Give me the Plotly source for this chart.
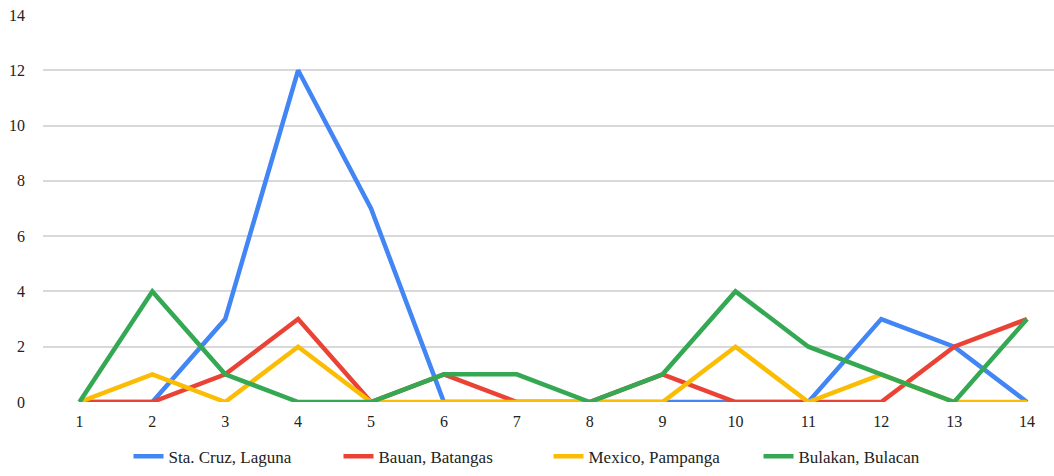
import plotly.graph_objects as go

weeks = list(range(1, 15))
sta_cruz = [0, 0, 3, 12, 7, 0, 0, 0, 0, 0, 0, 3, 2, 0]
bauan = [0, 0, 1, 3, 0, 1, 0, 0, 1, 0, 0, 0, 2, 3]
mexico = [0, 1, 0, 2, 0, 0, 0, 0, 0, 2, 0, 1, 0, 0]
bulakan = [0, 4, 1, 0, 0, 1, 1, 0, 1, 4, 2, 1, 0, 3]

series = [
    ("Sta. Cruz, Laguna", sta_cruz, "#4285F4"),
    ("Bauan, Batangas", bauan, "#EA4335"),
    ("Mexico, Pampanga", mexico, "#FBBC04"),
    ("Bulakan, Bulacan", bulakan, "#34A853"),
]

fig = go.Figure()
for name, vals, color in series:
    fig.add_trace(go.Scatter(
        x=weeks, y=vals, name=name, mode="lines",
        line=dict(color=color, width=4.5),
    ))

font_family = "'Liberation Serif', 'Times New Roman', Times, serif"
fig.update_layout(
    width=1054, height=476,
    margin=dict(l=43, r=0, t=15, b=74, autoexpand=False),
    paper_bgcolor="white", plot_bgcolor="white",
    font=dict(family=font_family, size=16, color="#222222"),
    showlegend=True,
    legend=dict(orientation="h", x=0.5, xanchor="center", y=-0.095,
                yanchor="top", font=dict(family=font_family, size=17, color="#222222"),
                entrywidth=165, entrywidthmode="pixels", tracegroupgap=0),
    xaxis=dict(range=[0.5, 14.37], tickmode="array", tickvals=weeks,
               ticktext=[str(w) for w in weeks], showgrid=False,
               zeroline=False, showline=False, ticks="",
               tickfont=dict(family=font_family, size=16, color="#222222"),
               ticklabelstandoff=8),
    yaxis=dict(range=[0, 14], tickmode="array", tickvals=list(range(0, 15, 2)),
               showgrid=True, gridcolor="#d9d9d9", gridwidth=2,
               zeroline=False, showline=False, ticks="",
               tickfont=dict(family=font_family, size=16, color="#222222"),
               ticklabelstandoff=17),
)

fig.write_html("out.html")
